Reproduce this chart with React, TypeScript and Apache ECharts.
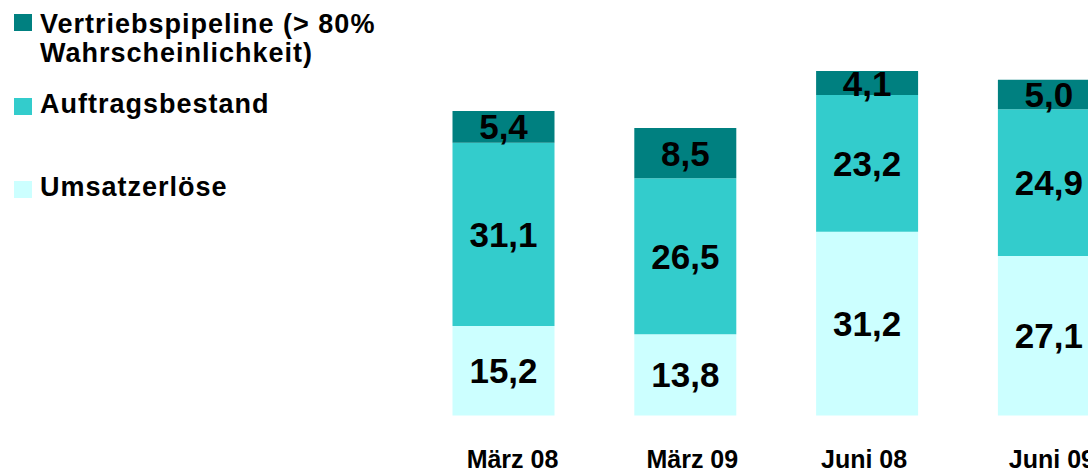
import React, { useEffect, useRef } from "react";
import * as echarts from "echarts";

const categories = ["März 08", "März 09", "Juni 08", "Juni 09"];
const umsatzerloese = [15.2, 13.8, 31.2, 27.1];
const auftragsbestand = [31.1, 26.5, 23.2, 24.9];
const vertriebspipeline = [5.4, 8.5, 4.1, 5.0];

const seriesNames = ["Umsatzerlöse", "Auftragsbestand", "Vertriebspipeline (> 80%\nWahrscheinlichkeit)"];
const colors = ["#CCFFFF", "#33CCCC", "#008080"];
// horizontal nudge of each category label (px), as in the reference's separate text boxes
const labelNudge = [9, 7, -3, 3];

const FONT = "'Liberation Sans', Arial, sans-serif";

const fmt = (v: number) => v.toFixed(1).replace(".", ",");

export default function App() {
  const ref = useRef<HTMLDivElement>(null);
  useEffect(() => {
    if (!ref.current) return;
    const chart = echarts.init(ref.current, undefined, { renderer: "svg" });
    const values = [umsatzerloese, auftragsbestand, vertriebspipeline];
    const series = values.map((arr, i) => ({
      name: seriesNames[i],
      type: "bar",
      stack: "total",
      barWidth: 102,
      data: arr,
      itemStyle: { color: colors[i] },
      label: {
        show: true,
        position: "inside",
        color: "#000",
        fontSize: 35,
        fontWeight: "bold",
        fontFamily: FONT,
        formatter: (p: any) => fmt(p.value),
      },
    }));
    const legendText = (text: string, x: number, y: number) => ({
      type: "text",
      left: x,
      top: y,
      style: {
        text,
        fill: "#000",
        font: `bold 27px ${FONT}`,
        lineHeight: 29,
      },
    });
    const xData = categories.map((c, i) => {
      const n = labelNudge[i];
      return {
        value: c,
        textStyle: { padding: n >= 0 ? [0, 0, 0, 2 * n] : [0, -2 * n, 0, 0] },
      };
    });
    chart.setOption({
      animation: false,
      grid: {
        left: 412.6,
        width: 727.2,
        top: 62.1,
        bottom: 55.5,
        outerBoundsMode: "none",
        containLabel: false,
      },
      xAxis: {
        type: "category",
        data: xData,
        axisLine: { show: false },
        axisTick: { show: false },
        axisLabel: {
          color: "#000",
          fontSize: 25,
          lineHeight: 22,
          fontWeight: "bold",
          fontFamily: FONT,
          margin: 32,
        },
      },
      yAxis: {
        type: "value",
        min: 0,
        max: 60,
        show: false,
        splitLine: { show: false },
      },
      graphic: [
        { type: "rect", left: 14, top: 14, shape: { width: 18, height: 17 }, style: { fill: colors[2] } },
        legendText(seriesNames[2], 40, 9),
        { type: "rect", left: 14, top: 98, shape: { width: 18, height: 17 }, style: { fill: colors[1] } },
        legendText(seriesNames[1], 40, 89),
        { type: "rect", left: 14, top: 181, shape: { width: 18, height: 17 }, style: { fill: colors[0] } },
        legendText(seriesNames[0], 40, 172),
      ],
      series,
    });
    return () => chart.dispose();
  }, []);
  return (
    <>
      <style>{`svg text[style*="27px"] { letter-spacing: 1px; }`}</style>
      <div
        ref={ref}
        style={{ position: "fixed", left: 0, top: 0, width: 1088, height: 471, background: "#fff" }}
      />
    </>
  );
}
